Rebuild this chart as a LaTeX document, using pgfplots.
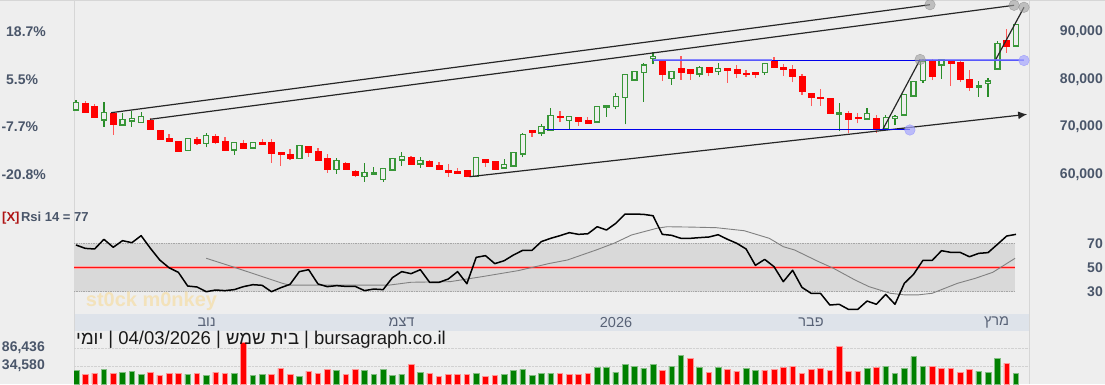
\documentclass[border=0pt]{standalone}
\usepackage{pgfplots}
\pgfplotsset{compat=1.18}
\usepackage{pgfplotstable}
\usepackage{fontspec}
\setmainfont{Liberation Sans}
\newfontfamily\hebfont[Script=Hebrew]{Liberation Sans}
\TeXXeTstate=1
\usetikzlibrary{arrows.meta}

\definecolor{bg}{RGB}{238,238,238}
\definecolor{lab}{RGB}{74,86,106}
\definecolor{datecol}{RGB}{88,98,118}
\definecolor{dateband}{RGB}{222,227,234}
\definecolor{rsiband}{RGB}{217,217,217}
\definecolor{cgreen}{RGB}{56,150,56}
\definecolor{wgreen}{RGB}{40,140,40}
\definecolor{cred}{RGB}{255,0,0}
\definecolor{wred}{RGB}{255,90,90}
\definecolor{vgreen}{RGB}{0,128,0}
\definecolor{vgreenl}{RGB}{130,190,130}
\definecolor{vred}{RGB}{255,0,0}
\definecolor{vredl}{RGB}{255,150,150}
\definecolor{xred}{RGB}{175,20,20}
\definecolor{wm}{RGB}{243,226,186}
\definecolor{sep}{RGB}{214,214,214}
\definecolor{bluel}{RGB}{0,0,235}
\definecolor{bluet}{RGB}{110,110,255}
\definecolor{fiftyred}{RGB}{255,20,20}

\newcommand\labfont{\fontsize{14pt}{16pt}\selectfont\bfseries}
\newcommand\datefont{\fontsize{14.5pt}{16pt}\selectfont}
\newcommand\titfont{\fontsize{18.5pt}{20pt}\selectfont}
\newcommand\rsifont{\fontsize{13pt}{15pt}\selectfont\bfseries}
\newcommand\wmfont{\fontsize{20pt}{22pt}\selectfont\bfseries}

\tikzset{
 gwick/.style={draw=wgreen, line width=1.2pt},
 rwick/.style={draw=wred, line width=1.2pt},
 gbody/.style={draw=cgreen, fill=bg, line width=1.3pt},
 rbody/.style={draw=cred, fill=cred, line width=0.4pt},
 tline/.style={draw=black!85, line width=1.2pt},
}
\pgfplotsset{every axis/.append style={scaled y ticks=false, scaled x ticks=false}}

% x g O H L C
\pgfplotstableread{
x g O H L C
0 1 73520 75620 73410 75060
1 0 74930 75410 73100 73160
2 0 74420 74720 71830 71900
3 1 71410 75140 70000 72950
4 0 72950 72950 68260 70570
5 1 70360 72820 70360 71560
6 1 71200 73370 70000 71770
7 1 70930 73160 70930 72190
8 0 71270 71900 69460 69460
9 0 69310 69310 67200 67410
10 0 67560 68470 66850 66850
11 0 66990 66990 64680 64950
12 1 65040 67480 65040 67480
13 0 67350 67840 66150 66510
14 1 66510 68610 65670 68110
15 0 68050 68530 66360 66720
16 0 66990 67840 65100 65100
17 1 65100 66720 64050 66720
18 0 66570 67200 65310 65580
19 1 65520 66720 65520 66720
20 0 66780 67410 66420 66420
21 0 66640 67410 62430 64530
22 0 64680 64680 61730 64110
23 0 64260 65250 62990 63410
24 1 63350 66090 63350 66090
25 0 65940 65940 63690 64680
26 0 64890 65520 62780 62990
27 0 63410 64260 60320 61100
28 1 61040 63410 60050 62850
29 0 62360 62640 61100 61100
30 0 60680 60890 59350 59690
31 1 59560 62360 58430 60320
32 1 60050 61460 59900 60320
33 1 58930 61160 58430 61160
34 1 60890 63350 60890 63350
35 1 62990 64680 61730 63770
36 0 63560 63840 62210 62210
37 1 62150 63630 61370 62930
38 0 62780 62990 61520 61730
39 0 61940 62570 61040 61040
40 0 60890 62150 59480 60530
41 0 60680 61250 60320 60320
42 0 60830 60830 59350 59480
43 1 59480 63560 59480 63560
44 0 63200 63200 61580 62430
45 0 62780 62780 61160 61160
46 1 61310 63200 61310 62000
47 1 61730 64530 61730 64530
48 1 64260 68610 63560 68320
49 0 69310 69310 67900 68820
50 1 68680 70570 68110 70090
51 1 69310 73880 69310 72320
52 0 72190 73310 70990 71900
53 1 71270 72110 69460 72110
54 0 71980 71980 70210 71060
55 0 71270 72050 70720 70720
56 1 70990 74210 70990 74210
57 1 74150 74420 72110 74420
58 1 74210 77160 73670 76320
59 1 76110 81030 70510 81030
60 1 79830 81580 79830 81580
61 1 81370 83350 75270 82990
62 1 84320 85660 83140 84740
63 0 83830 83830 79690 81030
64 1 80190 81580 78840 81580
65 0 82360 84890 79900 81580
66 0 82150 82150 79900 81370
67 1 81100 82780 80400 82510
68 0 82510 82510 80610 81580
69 1 81580 83350 80820 82210
70 0 82360 82360 79260 82000
71 0 82150 82930 80320 81160
72 0 81370 82000 80530 80950
73 0 81520 81520 80320 80950
74 1 81450 83350 80950 83350
75 0 83900 84740 82630 82630
76 0 82570 83200 80740 82090
77 0 82150 82990 79350 80530
78 0 80680 81100 76680 77580
79 0 77160 77160 74360 76190
80 0 76260 77940 74420 75900
81 0 76040 76040 72740 72740
82 1 72680 74990 69200 72990
83 0 72820 73310 68740 71620
84 0 71900 72950 70720 71690
85 1 71620 73880 71620 72820
86 0 71770 72470 68740 69460
87 1 69520 72470 69520 71980
88 1 71690 72470 70360 72110
89 1 72470 76820 72470 76820
90 1 76470 79480 76470 79480
91 1 79690 84190 79260 83690
92 0 83830 84190 79830 80680
93 1 82990 84040 80110 84040
94 0 84040 84040 78570 83350
95 0 83480 83900 79480 80040
96 0 80040 81940 77580 78420
97 1 78360 79620 76320 78630
98 1 79140 80190 76320 79620
99 1 82150 88110 82090 87560
100 0 88250 90510 85580 86990
101 1 86990 91560 86990 91560
}\candles

\pgfplotstableread{
x r
0 68.6
1 65.8
2 65.3
3 73.3
4 66.7
5 72.2
6 70.5
7 76.3
8 65.8
9 56.2
10 49.8
11 46.0
12 34.7
13 33.9
14 30.0
15 31.4
16 30.9
17 31.7
18 34.2
19 35.8
20 35.3
21 30.0
22 33.3
23 36.1
24 46.6
25 48.2
26 36.4
27 34.2
28 35.0
29 34.4
30 34.4
31 30.9
32 32.2
33 31.7
34 41.6
35 46.6
36 44.9
37 48.2
38 37.7
39 37.7
40 40.5
41 46.6
42 36.6
43 58.4
44 59.8
45 53.2
46 55.6
47 60.3
48 64.2
49 64.2
50 71.4
51 74.1
52 76.3
53 78.8
54 77.4
55 77.9
56 83.7
57 81.0
58 86.5
59 94.2
60 94.2
61 93.9
62 92.8
63 77.4
64 76.6
65 74.1
66 74.1
67 74.7
68 75.2
69 77.1
70 73.3
71 70.0
72 65.3
73 51.8
74 56.7
75 50.7
76 38.3
77 47.7
78 33.6
79 28.6
80 28.6
81 19.0
82 19.6
83 15.4
84 15.4
85 22.3
86 19.6
87 27.8
88 19.6
89 36.9
90 44.4
91 55.9
92 55.9
93 63.9
94 62.5
95 62.5
96 58.9
97 61.7
98 62.3
99 69.1
100 76.0
101 77.4
}\rsi

\pgfplotstableread{
x s
14 57.6
16.8 50.7
19.5 43.8
22.2 36.9
22.9 35.5
33.7 35.5
36 37.8
40.2 38.3
43.6 42.4
47.5 47.4
50.9 53.4
52.8 56.2
55.9 64.5
57.8 70.0
59.7 76.9
62.4 82.4
63.5 83.7
66.1 83.4
68.8 82.9
71.8 80.4
74.5 74.1
76 67.2
77.2 64.5
79.8 54.8
81.4 49.3
83.7 39.7
85.2 34.2
87.5 28.7
89 27.4
90.5 27.4
92 28.7
94.7 36.9
96.6 41.0
98.5 46.0
100.9 57.6
}\sig

\pgfplotstableread{
x v
0 23055
3 24975
5 17293
6 20174
7 11531
12 11531
14 8650
17 14412
19 8650
20 11531
24 5769
28 23055
31 23055
32 11531
33 24975
34 8650
35 11531
37 17293
43 14412
46 11531
47 23055
48 24975
49 8650
50 14412
51 14412
56 31697
57 31697
58 17293
59 40340
60 34578
61 28816
62 40340
64 34578
65 65308
67 31697
69 31697
72 28816
73 23055
85 28816
87 34578
88 14412
89 28816
90 61467
91 34578
97 20174
98 17293
99 57625
101 14412
}\volG

\pgfplotstableread{
x v
1 11531
2 14412
4 14412
8 17293
9 8650
10 14412
11 14412
13 14412
15 17293
16 14412
18 101800
21 11531
22 27856
23 11531
25 20174
26 14412
27 24975
29 11531
30 24975
36 40340
38 14412
39 5769
40 11531
41 11531
42 11531
44 3849
45 8650
52 14412
53 11531
54 11531
55 14412
63 23055
66 57625
68 17293
70 25936
71 20174
74 23055
75 25936
76 31697
77 34578
78 14412
79 25936
80 28816
81 23055
82 92196
83 20174
84 20174
86 31697
92 34578
93 28816
94 28816
95 17293
96 25936
100 43221
}\volR

\begin{document}
\begin{tikzpicture}
\useasboundingbox (0pt,0pt) rectangle (1105pt,384pt);
\fill[bg] (0pt,0pt) rectangle (1105pt,384pt);
\draw[sep, line width=1pt] (0pt,383.5pt) -- (1105pt,383.5pt);
\draw[sep, line width=1pt] (74pt,0pt) -- (74pt,384pt);
\draw[sep, line width=1pt] (1029pt,0pt) -- (1029pt,384pt);
\fill[dateband] (74.5pt,53pt) rectangle (1028.5pt,70pt);

% ---------------- price panel ----------------
\begin{axis}[
  at={(74pt,184pt)}, anchor=south west, scale only axis,
  width=955pt, height=200pt,
  xmin=-0.215, xmax=102.40, ymin=54573, ymax=96673,
  axis line style={draw=none}, major tick length=0pt,
  xtick=\empty, ytick={60000,70000,80000,90000},
  yticklabels={{\llap{-}20.8\%},{\llap{-}7.7\%},{5.5\%},{18.7\%}},
  yticklabel style={anchor=west, xshift=-68pt, inner sep=0pt, font=\labfont, text=lab},
  clip=false]
\pgfplotsforeachungrouped \i in {0,...,101}{%
  \pgfplotstablegetelem{\i}{O}\of\candles \let\vO\pgfplotsretval
  \pgfplotstablegetelem{\i}{H}\of\candles \let\vH\pgfplotsretval
  \pgfplotstablegetelem{\i}{L}\of\candles \let\vL\pgfplotsretval
  \pgfplotstablegetelem{\i}{C}\of\candles \let\vC\pgfplotsretval
  \pgfplotstablegetelem{\i}{g}\of\candles \let\vg\pgfplotsretval
  \ifnum\vg=1
    \pgfmathsetmacro\xl{\i-0.27}\pgfmathsetmacro\xr{\i+0.27}%
    \edef\cmd{\noexpand\addplot[gwick] coordinates {(\i,\vL) (\i,\vH)};
      \noexpand\addplot[gbody] coordinates {(\xl,\vO) (\xr,\vO) (\xr,\vC) (\xl,\vC)} -- cycle;}%
  \else
    \pgfmathsetmacro\xl{\i-0.32}\pgfmathsetmacro\xr{\i+0.32}%
    \edef\cmd{\noexpand\addplot[rwick] coordinates {(\i,\vL) (\i,\vH)};
      \noexpand\addplot[rbody] coordinates {(\xl,\vO) (\xr,\vO) (\xr,\vC) (\xl,\vC)} -- cycle;}%
  \fi
  \cmd
}
% trend lines
\addplot[tline] coordinates {(3.76,72950) (91.76,95680)};
\addplot[tline] coordinates {(7.95,71560) (100.8,95560)};
\addplot[tline] coordinates {(98.8,84040) (101.86,95140)};
\addplot[tline] coordinates {(86.7,69460) (90.7,84150)};
\addplot[tline, -{Latex[length=9pt,width=8pt]}] coordinates {(42.3,59480) (102.2,72610)};
\addplot[bluel, line width=1pt] coordinates {(50.4,69400) (89.6,69400)};
\addplot[bluel, line width=1pt] coordinates {(61.96,83940) (101.86,83940)};
\addplot[bluet, line width=2pt, opacity=0.8] coordinates {(61.96,83940) (74.75,83940)};
\addplot[bluet, line width=2pt, opacity=0.8] coordinates {(90.7,83940) (101.86,83940)};
\addplot[only marks, mark=*, mark size=5.3pt, mark options={fill=gray!75, draw=gray, opacity=0.6}]
  coordinates {(91.76,95680) (100.8,95560) (101.86,95140) (90.7,84150)};
\addplot[only marks, mark=*, mark size=5.3pt, mark options={fill=blue!35!white, draw=blue!45!white, opacity=0.7}]
  coordinates {(89.6,69310) (101.86,83940)};
\end{axis}

% right price labels
\begin{axis}[
  at={(74pt,184pt)}, anchor=south west, scale only axis,
  width=955pt, height=200pt,
  xmin=-0.215, xmax=102.40, ymin=54573, ymax=96673,
  axis line style={draw=none}, major tick length=0pt,
  xtick=\empty, ytick={60000,70000,80000,90000},
  yticklabels={{60,000},{70,000},{80,000},{90,000}},
  yticklabel pos=right,
  yticklabel style={anchor=east, xshift=74pt, inner sep=0pt, font=\labfont, text=lab}]
\end{axis}

% ---------------- RSI panel ----------------
\begin{axis}[
  at={(74pt,71pt)}, anchor=south west, scale only axis,
  width=955pt, height=108pt,
  xmin=-0.215, xmax=102.40, ymin=12.40, ymax=101.65,
  axis line style={draw=none}, major tick length=0pt,
  xtick=\empty, ytick={30,50,70}, yticklabels={{30},{50},{70}},
  yticklabel pos=right,
  yticklabel style={anchor=east, xshift=74pt, inner sep=0pt, font=\labfont, text=lab},
  clip=false]
\addplot[fill=rsiband, draw=none] coordinates {(-0.215,30) (100.9,30) (100.9,70) (-0.215,70)} -- cycle;
\addplot[densely dotted, draw=black!35, line width=0.7pt] coordinates {(-0.215,70) (100.9,70)};
\addplot[densely dotted, draw=black!35, line width=0.7pt] coordinates {(-0.215,30) (100.9,30)};
\draw[fiftyred!40, line width=2.4pt] (axis cs:-0.215,50) -- (axis cs:100.9,50);
\draw[fiftyred, line width=1.1pt] (axis cs:-0.215,50) -- (axis cs:100.9,50);
\addplot[draw=black!50, line width=0.9pt] table[x=x,y=s] {\sig};
\addplot[draw=black, line width=1.5pt, line join=round] table[x=x,y=r] {\rsi};
\end{axis}

% ---------------- volume panel ----------------
\begin{axis}[
  at={(74pt,0pt)}, anchor=south west, scale only axis,
  width=955pt, height=43pt,
  xmin=-0.215, xmax=102.40, ymin=0, ymax=123883,
  axis line style={draw=none}, major tick length=0pt,
  xtick=\empty, ytick={51858,103714},
  yticklabels={{34,580},{86,436}},
  yticklabel style={anchor=west, xshift=-72.2pt, inner sep=0pt, font=\labfont, text=lab},
  ymajorgrids, grid style={densely dotted, draw=black!18}]
\addplot[ybar, bar width=5.6pt, bar shift=0pt, fill=vgreen, draw=vgreenl, line width=0.6pt]
  table[x=x, y expr=\thisrow{v}+17278] {\volG};
\addplot[ybar, bar width=5.6pt, bar shift=0pt, fill=vred, draw=vredl, line width=0.6pt]
  table[x=x, y expr=\thisrow{v}+17278] {\volR};
\end{axis}

% ---------------- texts ----------------
\node[anchor=west, inner sep=0pt, font=\rsifont] at (2pt,166.3pt)
  {\textcolor{xred}{[X]}\kern1.5pt\textcolor{lab}{Rsi 14 = 77}};
\node[anchor=west, inner sep=0pt, font=\wmfont, text=wm] at (85.7pt,83pt) {st0ck m0nkey};
\node[inner sep=0pt, font=\datefont, text=datecol] at (206.6pt,61.7pt) {\hebfont\beginR נוב\endR};
\node[inner sep=0pt, font=\datefont, text=datecol] at (401.5pt,61.7pt) {\hebfont\beginR דצמ\endR};
\node[inner sep=0pt, font=\datefont, text=datecol] at (616pt,61.7pt) {2026};
\node[inner sep=0pt, font=\datefont, text=datecol] at (811pt,61.7pt) {\hebfont\beginR פבר\endR};
\node[inner sep=0pt, font=\datefont, text=datecol] at (996.5pt,61.7pt) {\hebfont\beginR מרץ\endR};
\node[anchor=west, inner sep=0pt, font=\titfont, text=black!90] at (76pt,44pt)
  {{\hebfont\beginR יומי\endR} | 04/03/2026 | {\hebfont\beginR בית שמש\endR} | bursagraph.co.il};
\end{tikzpicture}
\end{document}
